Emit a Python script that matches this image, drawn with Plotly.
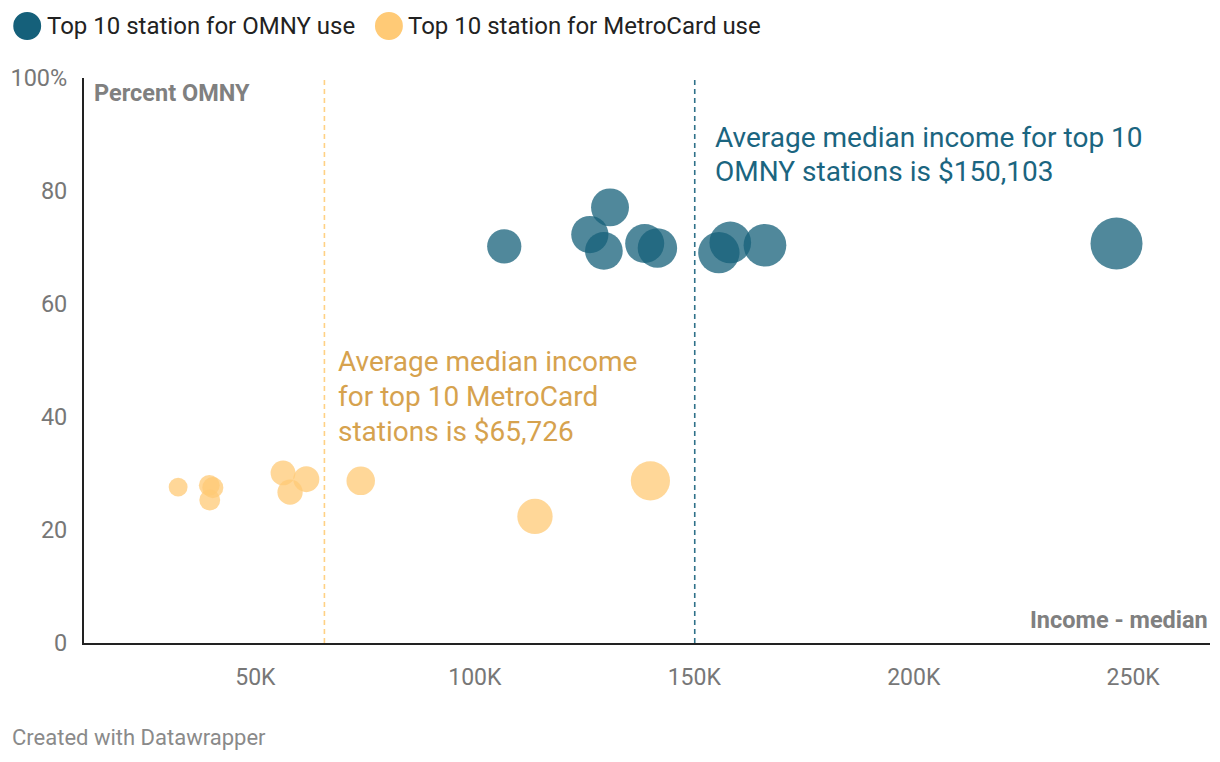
import plotly.graph_objects as go

# ---- data ----
omny_income = [106700, 130800, 126200, 129400, 138700, 141600, 155600, 158200, 166100, 246200]
omny_pct = [70.2, 77.1, 72.3, 69.4, 70.7, 69.9, 69.1, 70.9, 70.4, 70.7]

metro_income = [32400, 39500, 40300, 39600, 56300, 61600, 57900, 74000, 113700, 140000]
metro_pct = [27.6, 27.9, 27.5, 25.3, 30.1, 29.0, 26.7, 28.7, 22.4, 28.7]

avg_omny = 150103
avg_metro = 65726

x_ticks = [50000, 100000, 150000, 200000, 250000]
x_ticklabels = ["50K", "100K", "150K", "200K", "250K"]
y_ticks = [0, 20, 40, 60, 80, 100]
y_ticklabels = ["0", "20", "40", "60", "80", "100%"]

omny_note = ["Average median income for top 10", "OMNY stations is $150,103"]
metro_note = ["Average median income", "for top 10 MetroCard", "stations is $65,726"]

BLUE = "#15607a"
ORANGE = "#ffca76"
FONT = "Roboto"

# page body has an 8px margin; the figure is sized so the page fits the window
OFF_X, OFF_Y = 8, 8
W, H = 1204, 746
L, T = 80 - OFF_X, 78 - OFF_Y
PW, PH = 1130, 565
R = W - L - PW
B = H - T - PH


def px(xpix):
    return (xpix - OFF_X - L) / PW


def py(ypix):
    return (T + PH - (ypix - OFF_Y)) / PH


SIZEREF = 182

fig = go.Figure()
fig.add_trace(go.Scatter(
    x=omny_income, y=omny_pct, mode="markers", name="Top 10 station for OMNY use",
    marker=dict(color=BLUE, opacity=0.75, size=omny_income, sizemode="area",
                sizeref=SIZEREF, line=dict(width=0)),
    hoverinfo="skip", showlegend=False, cliponaxis=False,
))
fig.add_trace(go.Scatter(
    x=metro_income, y=metro_pct, mode="markers", name="Top 10 station for MetroCard use",
    marker=dict(color=ORANGE, opacity=0.75, size=metro_income, sizemode="area",
                sizeref=SIZEREF, line=dict(width=0)),
    hoverinfo="skip", showlegend=False, cliponaxis=False,
))

shapes = [
    dict(type="line", xref="x", yref="paper", x0=avg_metro, x1=avg_metro, y0=0, y1=1,
         line=dict(color="#ffd184", width=1.6, dash="5px,4px"), layer="below"),
    dict(type="line", xref="x", yref="paper", x0=avg_omny, x1=avg_omny, y0=0, y1=1,
         line=dict(color="#2f7189", width=1.6, dash="5px,4px"), layer="below"),
    # legend dots
    dict(type="circle", xref="paper", yref="paper", x0=px(9), x1=px(37), y0=py(40), y1=py(12),
         fillcolor=BLUE, line=dict(width=0)),
    dict(type="circle", xref="paper", yref="paper", x0=px(372), x1=px(400), y0=py(40), y1=py(12),
         fillcolor=ORANGE, line=dict(width=0)),
]

annotations = [
    dict(text="Top 10 station for OMNY use", x=px(41), y=py(26), xref="paper", yref="paper",
         xanchor="left", yanchor="middle", showarrow=False,
         font=dict(family=FONT, size=24, color="#222222")),
    dict(text="Top 10 station for MetroCard use", x=px(403), y=py(26), xref="paper", yref="paper",
         xanchor="left", yanchor="middle", showarrow=False,
         font=dict(family=FONT, size=24, color="#222222")),
    dict(text="<b>Percent OMNY</b>", x=px(88), y=py(93), xref="paper", yref="paper",
         xanchor="left", yanchor="middle", showarrow=False,
         font=dict(family=FONT, size=23.5, color="#808080")),
    dict(text="<b>Income - median</b>", x=1, y=py(620), xref="paper", yref="paper",
         xanchor="right", yanchor="middle", showarrow=False,
         font=dict(family=FONT, size=23.5, color="#808080")),
    dict(text="Created with Datawrapper", x=px(6), y=py(737), xref="paper", yref="paper",
         xanchor="left", yanchor="middle", showarrow=False,
         font=dict(family=FONT, size=22, color="#8a8a8a")),
]
for i, line in enumerate(omny_note):
    annotations.append(dict(text=line, x=px(711), y=py(137 + 34 * i), xref="paper", yref="paper",
                            xanchor="left", yanchor="middle", showarrow=False,
                            font=dict(family=FONT, size=28, color="#1b6580")))
for i, line in enumerate(metro_note):
    annotations.append(dict(text=line, x=px(333), y=py(362 + 34.5 * i), xref="paper", yref="paper",
                            xanchor="left", yanchor="middle", showarrow=False,
                            font=dict(family=FONT, size=28, color="#d6a24e")))

fig.update_layout(
    width=W, height=H,
    margin=dict(l=L, r=R, t=T, b=B, pad=0),
    paper_bgcolor="white", plot_bgcolor="white",
    showlegend=False,
    shapes=shapes, annotations=annotations,
    font=dict(family=FONT),
    xaxis=dict(range=[10950, 267500], tickvals=x_ticks, ticktext=x_ticklabels,
               showgrid=False, zeroline=False, showline=True, linecolor="#222222", linewidth=2,
               ticks="", ticklabelstandoff=12, tickfont=dict(family=FONT, size=23, color="#777777"),
               fixedrange=True),
    yaxis=dict(range=[0, 100], tickvals=y_ticks, ticktext=y_ticklabels,
               showgrid=False, zeroline=False, showline=True, linecolor="#222222", linewidth=2,
               ticks="", ticklabelstandoff=10, tickfont=dict(family=FONT, size=23.5, color="#777777"),
               fixedrange=True),
)

fig.write_html("out.html", config={"displayModeBar": False})
